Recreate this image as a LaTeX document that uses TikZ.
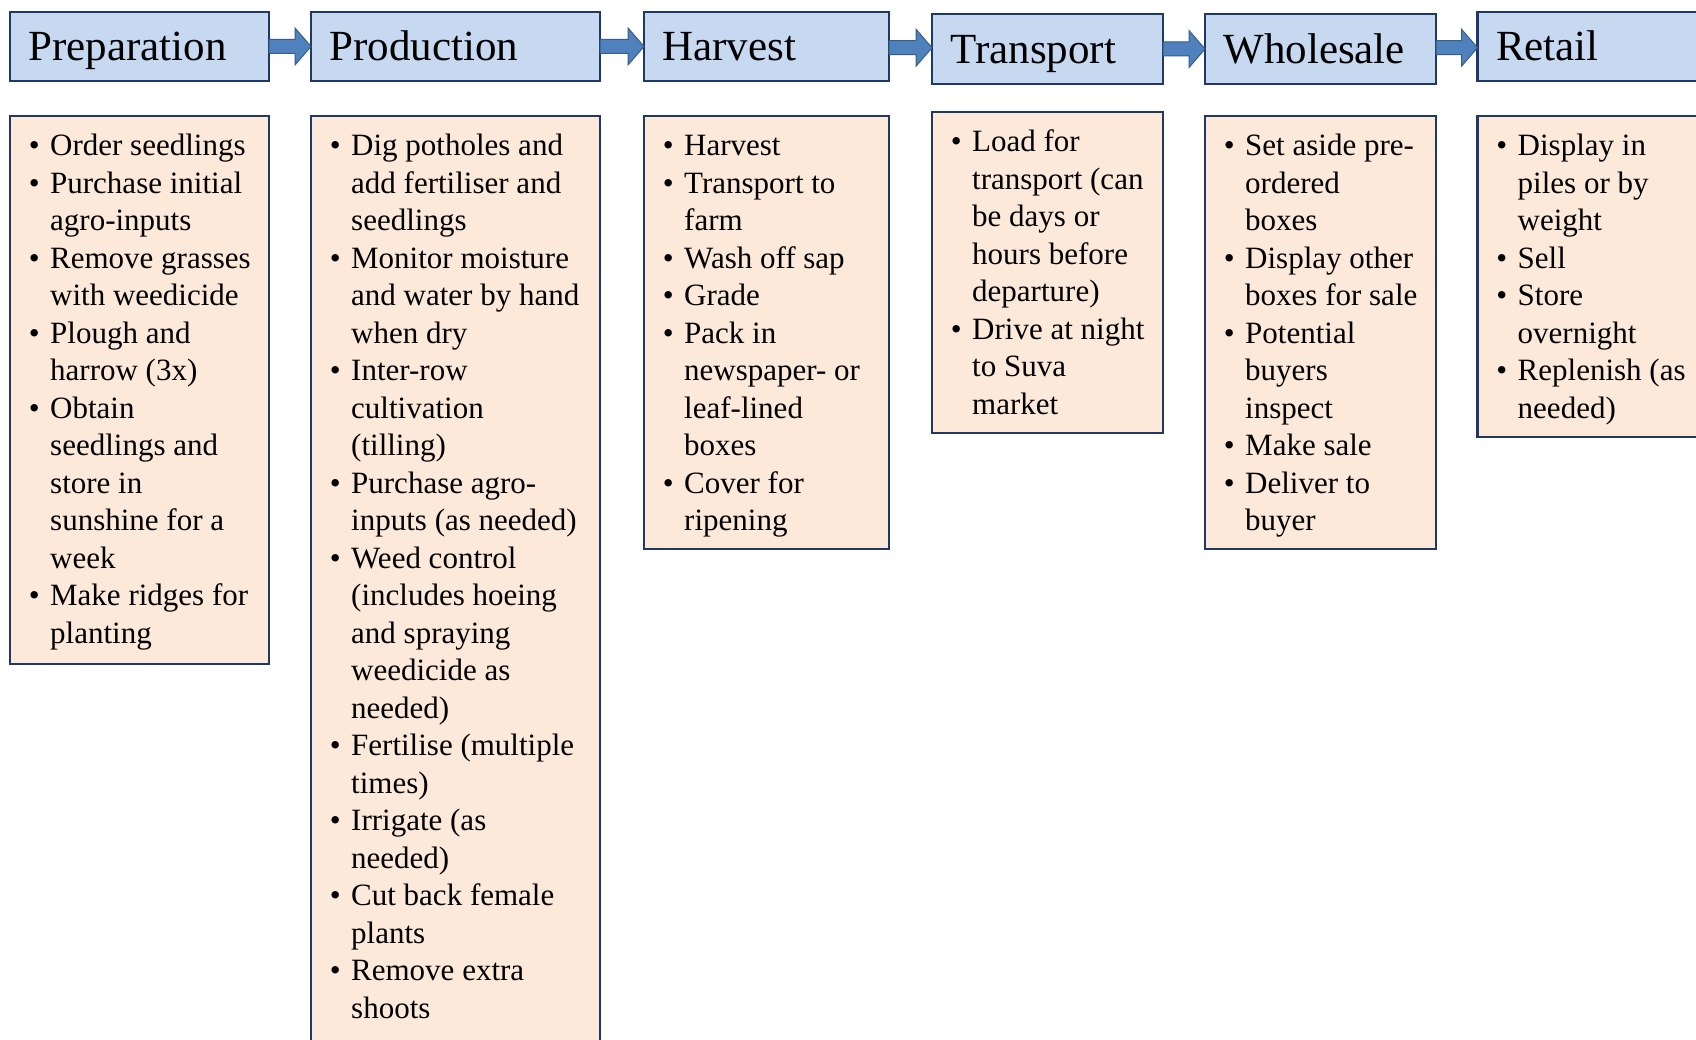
\documentclass[tikz,border=0pt]{standalone}
\usepackage{fontspec}
\setmainfont{Liberation Serif}
\usetikzlibrary{calc}

\definecolor{headfill}{HTML}{C6D9F1}
\definecolor{bodyfill}{HTML}{FDE9D9}
\definecolor{boxline}{HTML}{1F3864}
\definecolor{arrowfill}{HTML}{4F81BD}
\definecolor{arrowline}{HTML}{385D8A}

% one bullet point; lines of the point are separated by \\
\newcommand\bitem[1]{\par\noindent\llap{\textbullet\hspace{10.5pt}}#1}
% the bullet list of a stage, top line on the node's baseline
\newcommand\stagelist[2]{\parbox[t]{#1}{\fontsize{31}{37.5}\selectfont\raggedright #2}}

% block arrow from one stage heading to the next
\newcommand\stagearrow[2]{%
  \path ($(#1.east)!0.5!(#2.west)$) coordinate (#1-#2-mid);
  \draw[flowarrow]
    ($(#1.east |- #1-#2-mid)+(0,-7)$) -- ($(#2.west |- #1-#2-mid)+(-16,-7)$)
    -- ++(0,-11.5) -- (#2.west |- #1-#2-mid) -- ($(#2.west |- #1-#2-mid)+(-16,18.5)$)
    -- ++(0,-11.5) -- ($(#1.east |- #1-#2-mid)+(0,7)$) -- cycle;}

\tikzset{
  heading/.style={draw=boxline, fill=headfill, line width=2.2pt, anchor=north west,
    inner xsep=18.5pt, inner ysep=0pt, outer sep=0pt, text height=36pt, text depth=7pt,
    align=left, font=\fontsize{43}{50}\selectfont},
  stagebody/.style={draw=boxline, fill=bodyfill, line width=2.2pt, anchor=north west,
    inner sep=0pt, outer sep=0pt},
  stagetext/.style={anchor=base west, inner sep=0pt},
  flowarrow/.style={fill=arrowfill, draw=arrowline, line width=1pt, line join=miter},
}

\begin{document}
\begin{tikzpicture}[x=1pt, y=-1pt]
\useasboundingbox (0,0) rectangle (1696,1040);
\fill[white] (0,0) rectangle (1696,1040);
\clip (0,0) rectangle (1696,1040);

% stage headings
\node[heading, minimum width=259pt, minimum height=69pt, text width=222pt] (prepH) at (10,12) {Preparation};
\node[heading, minimum width=289pt, minimum height=69pt, text width=252pt] (prodH) at (311,12) {Production};
\node[heading, minimum width=245pt, minimum height=69pt, text width=208pt] (harvH) at (644,12) {Harvest};
\node[heading, minimum width=231pt, minimum height=70pt, text width=194pt] (tranH) at (932,14) {Transport};
\node[heading, minimum width=231pt, minimum height=70pt, text width=194pt] (wholH) at (1205,14) {Wholesale};
\node[heading, minimum width=260pt, minimum height=69pt, text width=223pt] (retH) at (1477.5,12) {Retail};

% arrows between headings
\stagearrow{prepH}{prodH}
\stagearrow{prodH}{harvH}
\stagearrow{harvH}{tranH}
\stagearrow{tranH}{wholH}
\stagearrow{wholH}{retH}

% activity boxes
\node[stagebody, minimum width=259pt, minimum height=548pt] (prepB) at (10,116) {};
\node[stagebody, minimum width=289pt, minimum height=960pt] (prodB) at (311,116) {};
\node[stagebody, minimum width=245pt, minimum height=433pt] (harvB) at (644,116) {};
\node[stagebody, minimum width=231pt, minimum height=321pt] (tranB) at (932,112) {};
\node[stagebody, minimum width=231pt, minimum height=433pt] (wholB) at (1205,116) {};
\node[stagebody, minimum width=260pt, minimum height=321pt] (retB) at (1477.5,116) {};

% activity lists
\node[stagetext] (prepT) at ($(prepB.north west)+(40,40)$) {\stagelist{215pt}{%
  \bitem{Order seedlings}
  \bitem{Purchase initial\\agro-inputs}
  \bitem{Remove grasses\\with weedicide}
  \bitem{Plough and\\harrow (3x)}
  \bitem{Obtain\\seedlings and\\store in\\sunshine for a\\week}
  \bitem{Make ridges for\\planting}}};

\node[stagetext] (prodT) at ($(prodB.north west)+(40,40)$) {\stagelist{245pt}{%
  \bitem{Dig potholes and\\add fertiliser and\\seedlings}
  \bitem{Monitor moisture\\and water by hand\\when dry}
  \bitem{Inter-row\\cultivation\\(tilling)}
  \bitem{Purchase agro-\\inputs (as needed)}
  \bitem{Weed control\\(includes hoeing\\and spraying\\weedicide as\\needed)}
  \bitem{Fertilise (multiple\\times)}
  \bitem{Irrigate (as\\needed)}
  \bitem{Cut back female\\plants}
  \bitem{Remove extra\\shoots}}};

\node[stagetext] (harvT) at ($(harvB.north west)+(40,40)$) {\stagelist{201pt}{%
  \bitem{Harvest}
  \bitem{Transport to\\farm}
  \bitem{Wash off sap}
  \bitem{Grade}
  \bitem{Pack in\\newspaper- or\\leaf-lined\\boxes}
  \bitem{Cover for\\ripening}}};

\node[stagetext] (tranT) at ($(tranB.north west)+(40,40)$) {\stagelist{187pt}{%
  \bitem{Load for\\transport (can\\be days or\\hours before\\departure)}
  \bitem{Drive at night\\to Suva\\market}}};

\node[stagetext] (wholT) at ($(wholB.north west)+(40,40)$) {\stagelist{187pt}{%
  \bitem{Set aside pre-\\ordered\\boxes}
  \bitem{Display other\\boxes for sale}
  \bitem{Potential\\buyers\\inspect}
  \bitem{Make sale}
  \bitem{Deliver to\\buyer}}};

\node[stagetext] (retT) at ($(retB.north west)+(40,40)$) {\stagelist{175pt}{%
  \bitem{Display in\\piles or by\\weight}
  \bitem{Sell}
  \bitem{Store\\overnight}
  \bitem{Replenish (as\\needed)}}};
\end{tikzpicture}
\end{document}
